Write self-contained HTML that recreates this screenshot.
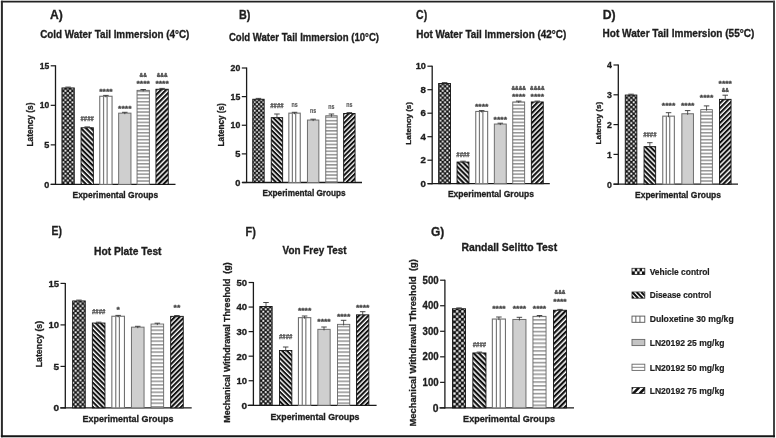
<!DOCTYPE html>
<html><head><meta charset="utf-8"><title>Figure</title>
<style>
html,body{margin:0;padding:0;background:#fff;}
body{width:776px;height:438px;overflow:hidden;}
svg{display:block;filter:blur(0.35px);}
</style></head>
<body>
<svg width="776" height="438" viewBox="0 0 776 438" font-family='"Liberation Sans", Arial, sans-serif'>
<defs>
<pattern id="chk" width="4.600" height="4.600" patternUnits="userSpaceOnUse"><rect width="4.600" height="4.600" fill="#141414"/><rect x="2.495" y="0.196" width="1.909" height="1.909" fill="#f6f6f6"/><rect x="0.196" y="2.495" width="1.909" height="1.909" fill="#f6f6f6"/></pattern>
<pattern id="dback" width="3.600" height="3.600" patternUnits="userSpaceOnUse" patternTransform="rotate(45)"><rect width="3.600" height="3.600" fill="#fff"/><rect width="3.600" height="2.160" fill="#111"/></pattern>
<pattern id="dfwd" width="3.600" height="3.600" patternUnits="userSpaceOnUse" patternTransform="rotate(-45)"><rect width="3.600" height="3.600" fill="#fff"/><rect width="3.600" height="2.160" fill="#111"/></pattern>
<pattern id="hline" width="3.400" height="3.400" patternUnits="userSpaceOnUse"><rect width="3.400" height="3.400" fill="#fff"/><rect y="1.020" width="3.400" height="1.25" fill="#7c7c7c"/></pattern>
<pattern id="chkA" width="4.600" height="4.600" patternUnits="userSpaceOnUse"><rect width="4.600" height="4.600" fill="#141414"/><rect x="2.495" y="0.196" width="1.909" height="1.909" fill="#f6f6f6"/><rect x="0.196" y="2.495" width="1.909" height="1.909" fill="#f6f6f6"/></pattern>
<pattern id="dbackA" width="3.600" height="3.600" patternUnits="userSpaceOnUse" patternTransform="rotate(45)"><rect width="3.600" height="3.600" fill="#fff"/><rect width="3.600" height="2.160" fill="#111"/></pattern>
<pattern id="dfwdA" width="3.600" height="3.600" patternUnits="userSpaceOnUse" patternTransform="rotate(-45)"><rect width="3.600" height="3.600" fill="#fff"/><rect width="3.600" height="2.160" fill="#111"/></pattern>
<pattern id="hlineA" width="3.450" height="3.450" patternUnits="userSpaceOnUse"><rect width="3.450" height="3.450" fill="#fff"/><rect y="1.035" width="3.450" height="1.25" fill="#7c7c7c"/></pattern>
<pattern id="chkB" width="4.300" height="4.300" patternUnits="userSpaceOnUse"><rect width="4.300" height="4.300" fill="#141414"/><rect x="2.333" y="0.183" width="1.784" height="1.784" fill="#f6f6f6"/><rect x="0.183" y="2.333" width="1.784" height="1.784" fill="#f6f6f6"/></pattern>
<pattern id="dbackB" width="3.360" height="3.360" patternUnits="userSpaceOnUse" patternTransform="rotate(45)"><rect width="3.360" height="3.360" fill="#fff"/><rect width="3.360" height="2.016" fill="#111"/></pattern>
<pattern id="dfwdB" width="3.360" height="3.360" patternUnits="userSpaceOnUse" patternTransform="rotate(-45)"><rect width="3.360" height="3.360" fill="#fff"/><rect width="3.360" height="2.016" fill="#111"/></pattern>
<pattern id="hlineB" width="3.400" height="3.400" patternUnits="userSpaceOnUse"><rect width="3.400" height="3.400" fill="#fff"/><rect y="1.020" width="3.400" height="1.25" fill="#7c7c7c"/></pattern>
<pattern id="chkC" width="4.600" height="4.600" patternUnits="userSpaceOnUse"><rect width="4.600" height="4.600" fill="#141414"/><rect x="2.495" y="0.196" width="1.909" height="1.909" fill="#f6f6f6"/><rect x="0.196" y="2.495" width="1.909" height="1.909" fill="#f6f6f6"/></pattern>
<pattern id="dbackC" width="3.500" height="3.500" patternUnits="userSpaceOnUse" patternTransform="rotate(45)"><rect width="3.500" height="3.500" fill="#fff"/><rect width="3.500" height="2.100" fill="#111"/></pattern>
<pattern id="dfwdC" width="3.500" height="3.500" patternUnits="userSpaceOnUse" patternTransform="rotate(-45)"><rect width="3.500" height="3.500" fill="#fff"/><rect width="3.500" height="2.100" fill="#111"/></pattern>
<pattern id="hlineC" width="3.450" height="3.450" patternUnits="userSpaceOnUse"><rect width="3.450" height="3.450" fill="#fff"/><rect y="1.035" width="3.450" height="1.25" fill="#7c7c7c"/></pattern>
<pattern id="chkD" width="4.600" height="4.600" patternUnits="userSpaceOnUse"><rect width="4.600" height="4.600" fill="#141414"/><rect x="2.495" y="0.196" width="1.909" height="1.909" fill="#f6f6f6"/><rect x="0.196" y="2.495" width="1.909" height="1.909" fill="#f6f6f6"/></pattern>
<pattern id="dbackD" width="3.500" height="3.500" patternUnits="userSpaceOnUse" patternTransform="rotate(45)"><rect width="3.500" height="3.500" fill="#fff"/><rect width="3.500" height="2.100" fill="#111"/></pattern>
<pattern id="dfwdD" width="3.500" height="3.500" patternUnits="userSpaceOnUse" patternTransform="rotate(-45)"><rect width="3.500" height="3.500" fill="#fff"/><rect width="3.500" height="2.100" fill="#111"/></pattern>
<pattern id="hlineD" width="3.450" height="3.450" patternUnits="userSpaceOnUse"><rect width="3.450" height="3.450" fill="#fff"/><rect y="1.035" width="3.450" height="1.25" fill="#7c7c7c"/></pattern>
<pattern id="chkE" width="4.800" height="4.800" patternUnits="userSpaceOnUse"><rect width="4.800" height="4.800" fill="#141414"/><rect x="2.604" y="0.204" width="1.992" height="1.992" fill="#f6f6f6"/><rect x="0.204" y="2.604" width="1.992" height="1.992" fill="#f6f6f6"/></pattern>
<pattern id="dbackE" width="3.400" height="3.400" patternUnits="userSpaceOnUse" patternTransform="rotate(45)"><rect width="3.400" height="3.400" fill="#fff"/><rect width="3.400" height="2.040" fill="#111"/></pattern>
<pattern id="dfwdE" width="3.400" height="3.400" patternUnits="userSpaceOnUse" patternTransform="rotate(-45)"><rect width="3.400" height="3.400" fill="#fff"/><rect width="3.400" height="2.040" fill="#111"/></pattern>
<pattern id="hlineE" width="3.650" height="3.650" patternUnits="userSpaceOnUse"><rect width="3.650" height="3.650" fill="#fff"/><rect y="1.095" width="3.650" height="1.25" fill="#7c7c7c"/></pattern>
<pattern id="chkF" width="4.600" height="4.600" patternUnits="userSpaceOnUse"><rect width="4.600" height="4.600" fill="#141414"/><rect x="2.495" y="0.196" width="1.909" height="1.909" fill="#f6f6f6"/><rect x="0.196" y="2.495" width="1.909" height="1.909" fill="#f6f6f6"/></pattern>
<pattern id="dbackF" width="3.400" height="3.400" patternUnits="userSpaceOnUse" patternTransform="rotate(45)"><rect width="3.400" height="3.400" fill="#fff"/><rect width="3.400" height="2.040" fill="#111"/></pattern>
<pattern id="dfwdF" width="3.400" height="3.400" patternUnits="userSpaceOnUse" patternTransform="rotate(-45)"><rect width="3.400" height="3.400" fill="#fff"/><rect width="3.400" height="2.040" fill="#111"/></pattern>
<pattern id="hlineF" width="3.650" height="3.650" patternUnits="userSpaceOnUse"><rect width="3.650" height="3.650" fill="#fff"/><rect y="1.095" width="3.650" height="1.25" fill="#7c7c7c"/></pattern>
<pattern id="chkG" width="5.300" height="5.300" patternUnits="userSpaceOnUse"><rect width="5.300" height="5.300" fill="#141414"/><rect x="2.875" y="0.225" width="2.200" height="2.200" fill="#f6f6f6"/><rect x="0.225" y="2.875" width="2.200" height="2.200" fill="#f6f6f6"/></pattern>
<pattern id="dbackG" width="3.750" height="3.750" patternUnits="userSpaceOnUse" patternTransform="rotate(45)"><rect width="3.750" height="3.750" fill="#fff"/><rect width="3.750" height="2.250" fill="#111"/></pattern>
<pattern id="dfwdG" width="3.750" height="3.750" patternUnits="userSpaceOnUse" patternTransform="rotate(-45)"><rect width="3.750" height="3.750" fill="#fff"/><rect width="3.750" height="2.250" fill="#111"/></pattern>
<pattern id="hlineG" width="3.880" height="3.880" patternUnits="userSpaceOnUse"><rect width="3.880" height="3.880" fill="#fff"/><rect y="1.164" width="3.880" height="1.25" fill="#7c7c7c"/></pattern>
</defs>
<rect x="0" y="0" width="776" height="438" fill="#fff"/>
<line x1="0.9" y1="1.6" x2="775" y2="1.6" stroke="#222" stroke-width="1.9"/>
<line x1="1.9" y1="0.7" x2="1.9" y2="437.2" stroke="#2a2a2a" stroke-width="2.0"/>
<line x1="774.0" y1="0.7" x2="774.0" y2="437.2" stroke="#444" stroke-width="2.0"/>
<line x1="0.9" y1="436.2" x2="775" y2="436.2" stroke="#151515" stroke-width="1.9"/>
<line x1="55.50" y1="65.30" x2="55.50" y2="184.90" stroke="#1a1a1a" stroke-width="1.3"/>
<line x1="50.70" y1="184.40" x2="175.50" y2="184.40" stroke="#1a1a1a" stroke-width="1.3"/>
<line x1="50.70" y1="184.40" x2="55.50" y2="184.40" stroke="#1a1a1a" stroke-width="1.2"/>
<text x="49.20" y="187.50" font-size="8.6" text-anchor="end" font-weight="bold" fill="#1e1e1e" textLength="5.05" lengthAdjust="spacingAndGlyphs" stroke="#1e1e1e" stroke-width="0.32">0</text>
<line x1="50.70" y1="144.87" x2="55.50" y2="144.87" stroke="#1a1a1a" stroke-width="1.2"/>
<text x="49.20" y="147.96" font-size="8.6" text-anchor="end" font-weight="bold" fill="#1e1e1e" textLength="5.05" lengthAdjust="spacingAndGlyphs" stroke="#1e1e1e" stroke-width="0.32">5</text>
<line x1="50.70" y1="105.33" x2="55.50" y2="105.33" stroke="#1a1a1a" stroke-width="1.2"/>
<text x="49.20" y="108.43" font-size="8.6" text-anchor="end" font-weight="bold" fill="#1e1e1e" textLength="9.50" lengthAdjust="spacingAndGlyphs" stroke="#1e1e1e" stroke-width="0.32">10</text>
<line x1="50.70" y1="65.80" x2="55.50" y2="65.80" stroke="#1a1a1a" stroke-width="1.2"/>
<text x="49.20" y="68.89" font-size="8.6" text-anchor="end" font-weight="bold" fill="#1e1e1e" textLength="9.50" lengthAdjust="spacingAndGlyphs" stroke="#1e1e1e" stroke-width="0.32">15</text>
<rect x="61.95" y="87.95" width="12.30" height="96.45" fill="url(#chkA)" stroke="#111" stroke-width="0.9"/>
<line x1="68.10" y1="87.10" x2="68.10" y2="89.00" stroke="#333" stroke-width="0.8"/>
<line x1="65.35" y1="87.10" x2="70.85" y2="87.10" stroke="#333" stroke-width="0.9"/>
<rect x="81.05" y="127.75" width="12.30" height="56.65" fill="url(#dbackA)" stroke="#111" stroke-width="0.9"/>
<line x1="87.20" y1="126.90" x2="87.20" y2="128.80" stroke="#333" stroke-width="0.8"/>
<line x1="84.45" y1="126.90" x2="89.95" y2="126.90" stroke="#333" stroke-width="0.9"/>
<text x="87.20" y="121.00" font-size="6.8" text-anchor="middle" font-weight="bold" fill="#444" textLength="13.40" lengthAdjust="spacingAndGlyphs" font-family="Liberation Mono, monospace" stroke="#444" stroke-width="0.25">####</text>
<rect x="99.75" y="96.25" width="12.30" height="88.15" fill="#fff" stroke="#707070" stroke-width="1.1"/>
<line x1="103.56" y1="96.25" x2="103.56" y2="184.40" stroke="#7a7a7a" stroke-width="1.2"/>
<line x1="107.13" y1="96.25" x2="107.13" y2="184.40" stroke="#7a7a7a" stroke-width="1.2"/>
<line x1="105.90" y1="95.40" x2="105.90" y2="97.30" stroke="#333" stroke-width="0.8"/>
<line x1="103.15" y1="95.40" x2="108.65" y2="95.40" stroke="#333" stroke-width="0.9"/>
<text x="105.90" y="93.90" font-size="7.5" text-anchor="middle" font-weight="bold" fill="#444" textLength="13.40" lengthAdjust="spacingAndGlyphs" stroke="#444" stroke-width="0.32">****</text>
<rect x="118.65" y="113.15" width="12.30" height="71.25" fill="#cfcfcf" stroke="#6e6e6e" stroke-width="1.0"/>
<line x1="124.80" y1="112.30" x2="124.80" y2="114.20" stroke="#333" stroke-width="0.8"/>
<line x1="122.05" y1="112.30" x2="127.55" y2="112.30" stroke="#333" stroke-width="0.9"/>
<text x="124.80" y="110.50" font-size="7.5" text-anchor="middle" font-weight="bold" fill="#444" textLength="13.40" lengthAdjust="spacingAndGlyphs" stroke="#444" stroke-width="0.32">****</text>
<rect x="137.05" y="90.35" width="12.30" height="94.05" fill="url(#hlineA)" stroke="#666" stroke-width="0.9"/>
<line x1="143.20" y1="89.50" x2="143.20" y2="91.40" stroke="#333" stroke-width="0.8"/>
<line x1="140.45" y1="89.50" x2="145.95" y2="89.50" stroke="#333" stroke-width="0.9"/>
<text x="143.20" y="86.20" font-size="7.5" text-anchor="middle" font-weight="bold" fill="#444" textLength="13.40" lengthAdjust="spacingAndGlyphs" stroke="#444" stroke-width="0.32">****</text>
<text x="143.20" y="76.80" font-size="6.0" text-anchor="middle" font-weight="bold" fill="#444" textLength="7.20" lengthAdjust="spacingAndGlyphs" stroke="#444" stroke-width="0.32">&amp;&amp;</text>
<rect x="155.95" y="89.25" width="12.30" height="95.15" fill="url(#dfwdA)" stroke="#111" stroke-width="0.9"/>
<line x1="162.10" y1="88.40" x2="162.10" y2="90.30" stroke="#333" stroke-width="0.8"/>
<line x1="159.35" y1="88.40" x2="164.85" y2="88.40" stroke="#333" stroke-width="0.9"/>
<text x="162.10" y="86.20" font-size="7.5" text-anchor="middle" font-weight="bold" fill="#444" textLength="13.40" lengthAdjust="spacingAndGlyphs" stroke="#444" stroke-width="0.32">****</text>
<text x="162.10" y="76.80" font-size="6.0" text-anchor="middle" font-weight="bold" fill="#444" textLength="10.80" lengthAdjust="spacingAndGlyphs" stroke="#444" stroke-width="0.32">&amp;&amp;&amp;</text>
<text x="115.35" y="198.20" font-size="9.2" text-anchor="middle" font-weight="bold" fill="#1e1e1e" textLength="85.70" lengthAdjust="spacingAndGlyphs" stroke="#1e1e1e" stroke-width="0.32">Experimental Groups</text>
<text x="40.20" y="37.50" font-size="10.9" text-anchor="start" font-weight="bold" fill="#1e1e1e" textLength="149.20" lengthAdjust="spacingAndGlyphs" stroke="#1e1e1e" stroke-width="0.32">Cold Water Tail Immersion (4°C)</text>
<text x="50.00" y="19.40" font-size="12.9" text-anchor="start" font-weight="bold" fill="#1e1e1e" textLength="12.80" lengthAdjust="spacingAndGlyphs" stroke="#1e1e1e" stroke-width="0.32">A)</text>
<text transform="translate(32.70,124.50) rotate(-90)" x="0" y="0" font-size="9.0" text-anchor="middle" font-weight="bold" fill="#1e1e1e" stroke="#1e1e1e" stroke-width="0.3" textLength="44.00" lengthAdjust="spacingAndGlyphs">Latency (s)</text>
<line x1="246.60" y1="67.50" x2="246.60" y2="183.00" stroke="#1a1a1a" stroke-width="1.3"/>
<line x1="242.20" y1="182.50" x2="362.00" y2="182.50" stroke="#1a1a1a" stroke-width="1.3"/>
<line x1="241.80" y1="182.50" x2="246.60" y2="182.50" stroke="#1a1a1a" stroke-width="1.2"/>
<text x="240.30" y="185.63" font-size="8.7" text-anchor="end" font-weight="bold" fill="#1e1e1e" textLength="5.15" lengthAdjust="spacingAndGlyphs" stroke="#1e1e1e" stroke-width="0.32">0</text>
<line x1="241.80" y1="153.88" x2="246.60" y2="153.88" stroke="#1a1a1a" stroke-width="1.2"/>
<text x="240.30" y="157.01" font-size="8.7" text-anchor="end" font-weight="bold" fill="#1e1e1e" textLength="5.15" lengthAdjust="spacingAndGlyphs" stroke="#1e1e1e" stroke-width="0.32">5</text>
<line x1="241.80" y1="125.25" x2="246.60" y2="125.25" stroke="#1a1a1a" stroke-width="1.2"/>
<text x="240.30" y="128.38" font-size="8.7" text-anchor="end" font-weight="bold" fill="#1e1e1e" textLength="9.70" lengthAdjust="spacingAndGlyphs" stroke="#1e1e1e" stroke-width="0.32">10</text>
<line x1="241.80" y1="96.62" x2="246.60" y2="96.62" stroke="#1a1a1a" stroke-width="1.2"/>
<text x="240.30" y="99.76" font-size="8.7" text-anchor="end" font-weight="bold" fill="#1e1e1e" textLength="9.70" lengthAdjust="spacingAndGlyphs" stroke="#1e1e1e" stroke-width="0.32">15</text>
<line x1="241.80" y1="68.00" x2="246.60" y2="68.00" stroke="#1a1a1a" stroke-width="1.2"/>
<text x="240.30" y="71.13" font-size="8.7" text-anchor="end" font-weight="bold" fill="#1e1e1e" textLength="9.70" lengthAdjust="spacingAndGlyphs" stroke="#1e1e1e" stroke-width="0.32">20</text>
<rect x="252.75" y="99.25" width="11.40" height="83.25" fill="url(#chkB)" stroke="#111" stroke-width="0.9"/>
<line x1="258.45" y1="98.40" x2="258.45" y2="100.30" stroke="#333" stroke-width="0.8"/>
<line x1="255.70" y1="98.40" x2="261.20" y2="98.40" stroke="#333" stroke-width="0.9"/>
<rect x="271.25" y="117.65" width="11.40" height="64.85" fill="url(#dbackB)" stroke="#111" stroke-width="0.9"/>
<line x1="276.95" y1="114.00" x2="276.95" y2="118.70" stroke="#333" stroke-width="0.8"/>
<line x1="274.20" y1="114.00" x2="279.70" y2="114.00" stroke="#333" stroke-width="0.9"/>
<text x="276.95" y="107.60" font-size="6.8" text-anchor="middle" font-weight="bold" fill="#444" textLength="13.40" lengthAdjust="spacingAndGlyphs" font-family="Liberation Mono, monospace" stroke="#444" stroke-width="0.25">####</text>
<rect x="288.85" y="113.15" width="11.40" height="69.35" fill="#fff" stroke="#707070" stroke-width="1.1"/>
<line x1="292.38" y1="113.15" x2="292.38" y2="182.50" stroke="#7a7a7a" stroke-width="1.2"/>
<line x1="295.69" y1="113.15" x2="295.69" y2="182.50" stroke="#7a7a7a" stroke-width="1.2"/>
<line x1="294.55" y1="112.30" x2="294.55" y2="114.20" stroke="#333" stroke-width="0.8"/>
<line x1="291.80" y1="112.30" x2="297.30" y2="112.30" stroke="#333" stroke-width="0.9"/>
<text x="294.55" y="106.60" font-size="6.6" text-anchor="middle" font-weight="bold" fill="#555" textLength="6.20" lengthAdjust="spacingAndGlyphs" stroke="#555" stroke-width="0.12">ns</text>
<rect x="307.45" y="120.05" width="11.40" height="62.45" fill="#cfcfcf" stroke="#6e6e6e" stroke-width="1.0"/>
<line x1="313.15" y1="119.20" x2="313.15" y2="121.10" stroke="#333" stroke-width="0.8"/>
<line x1="310.40" y1="119.20" x2="315.90" y2="119.20" stroke="#333" stroke-width="0.9"/>
<text x="313.15" y="112.60" font-size="6.6" text-anchor="middle" font-weight="bold" fill="#555" textLength="6.20" lengthAdjust="spacingAndGlyphs" stroke="#555" stroke-width="0.12">ns</text>
<rect x="325.75" y="115.75" width="11.40" height="66.75" fill="url(#hlineB)" stroke="#666" stroke-width="0.9"/>
<line x1="331.45" y1="114.00" x2="331.45" y2="116.80" stroke="#333" stroke-width="0.8"/>
<line x1="328.70" y1="114.00" x2="334.20" y2="114.00" stroke="#333" stroke-width="0.9"/>
<text x="331.45" y="109.30" font-size="6.6" text-anchor="middle" font-weight="bold" fill="#555" textLength="6.20" lengthAdjust="spacingAndGlyphs" stroke="#555" stroke-width="0.12">ns</text>
<rect x="343.65" y="113.45" width="11.40" height="69.05" fill="url(#dfwdB)" stroke="#111" stroke-width="0.9"/>
<line x1="349.35" y1="112.60" x2="349.35" y2="114.50" stroke="#333" stroke-width="0.8"/>
<line x1="346.60" y1="112.60" x2="352.10" y2="112.60" stroke="#333" stroke-width="0.9"/>
<text x="349.35" y="106.80" font-size="6.6" text-anchor="middle" font-weight="bold" fill="#555" textLength="6.20" lengthAdjust="spacingAndGlyphs" stroke="#555" stroke-width="0.12">ns</text>
<text x="304.10" y="196.00" font-size="9.2" text-anchor="middle" font-weight="bold" fill="#1e1e1e" textLength="83.20" lengthAdjust="spacingAndGlyphs" stroke="#1e1e1e" stroke-width="0.32">Experimental Groups</text>
<text x="228.90" y="40.50" font-size="10.9" text-anchor="start" font-weight="bold" fill="#1e1e1e" textLength="150.10" lengthAdjust="spacingAndGlyphs" stroke="#1e1e1e" stroke-width="0.32">Cold Water Tail Immersion (10°C)</text>
<text x="238.90" y="19.40" font-size="12.9" text-anchor="start" font-weight="bold" fill="#1e1e1e" textLength="11.40" lengthAdjust="spacingAndGlyphs" stroke="#1e1e1e" stroke-width="0.32">B)</text>
<text transform="translate(224.00,124.80) rotate(-90)" x="0" y="0" font-size="8.5" text-anchor="middle" font-weight="bold" fill="#1e1e1e" stroke="#1e1e1e" stroke-width="0.3" textLength="43.20" lengthAdjust="spacingAndGlyphs">Latency (s)</text>
<line x1="432.20" y1="65.70" x2="432.20" y2="184.20" stroke="#1a1a1a" stroke-width="1.3"/>
<line x1="427.70" y1="183.70" x2="549.80" y2="183.70" stroke="#1a1a1a" stroke-width="1.3"/>
<line x1="427.40" y1="183.70" x2="432.20" y2="183.70" stroke="#1a1a1a" stroke-width="1.2"/>
<text x="425.90" y="186.94" font-size="9.0" text-anchor="end" font-weight="bold" fill="#1e1e1e" textLength="5.40" lengthAdjust="spacingAndGlyphs" stroke="#1e1e1e" stroke-width="0.32">0</text>
<line x1="427.40" y1="160.20" x2="432.20" y2="160.20" stroke="#1a1a1a" stroke-width="1.2"/>
<text x="425.90" y="163.44" font-size="9.0" text-anchor="end" font-weight="bold" fill="#1e1e1e" textLength="5.40" lengthAdjust="spacingAndGlyphs" stroke="#1e1e1e" stroke-width="0.32">2</text>
<line x1="427.40" y1="136.70" x2="432.20" y2="136.70" stroke="#1a1a1a" stroke-width="1.2"/>
<text x="425.90" y="139.94" font-size="9.0" text-anchor="end" font-weight="bold" fill="#1e1e1e" textLength="5.40" lengthAdjust="spacingAndGlyphs" stroke="#1e1e1e" stroke-width="0.32">4</text>
<line x1="427.40" y1="113.20" x2="432.20" y2="113.20" stroke="#1a1a1a" stroke-width="1.2"/>
<text x="425.90" y="116.44" font-size="9.0" text-anchor="end" font-weight="bold" fill="#1e1e1e" textLength="5.40" lengthAdjust="spacingAndGlyphs" stroke="#1e1e1e" stroke-width="0.32">6</text>
<line x1="427.40" y1="89.70" x2="432.20" y2="89.70" stroke="#1a1a1a" stroke-width="1.2"/>
<text x="425.90" y="92.94" font-size="9.0" text-anchor="end" font-weight="bold" fill="#1e1e1e" textLength="5.40" lengthAdjust="spacingAndGlyphs" stroke="#1e1e1e" stroke-width="0.32">8</text>
<line x1="427.40" y1="66.20" x2="432.20" y2="66.20" stroke="#1a1a1a" stroke-width="1.2"/>
<text x="425.90" y="69.44" font-size="9.0" text-anchor="end" font-weight="bold" fill="#1e1e1e" textLength="10.20" lengthAdjust="spacingAndGlyphs" stroke="#1e1e1e" stroke-width="0.32">10</text>
<rect x="438.65" y="83.45" width="11.90" height="100.25" fill="url(#chkC)" stroke="#111" stroke-width="0.9"/>
<line x1="444.60" y1="82.60" x2="444.60" y2="84.50" stroke="#333" stroke-width="0.8"/>
<line x1="441.85" y1="82.60" x2="447.35" y2="82.60" stroke="#333" stroke-width="0.9"/>
<rect x="457.05" y="162.05" width="11.90" height="21.65" fill="url(#dbackC)" stroke="#111" stroke-width="0.9"/>
<line x1="463.00" y1="161.20" x2="463.00" y2="163.10" stroke="#333" stroke-width="0.8"/>
<line x1="460.25" y1="161.20" x2="465.75" y2="161.20" stroke="#333" stroke-width="0.9"/>
<text x="463.00" y="157.30" font-size="6.8" text-anchor="middle" font-weight="bold" fill="#444" textLength="13.40" lengthAdjust="spacingAndGlyphs" font-family="Liberation Mono, monospace" stroke="#444" stroke-width="0.25">####</text>
<rect x="475.75" y="111.45" width="11.90" height="72.25" fill="#fff" stroke="#707070" stroke-width="1.1"/>
<line x1="479.44" y1="111.45" x2="479.44" y2="183.70" stroke="#7a7a7a" stroke-width="1.2"/>
<line x1="482.89" y1="111.45" x2="482.89" y2="183.70" stroke="#7a7a7a" stroke-width="1.2"/>
<line x1="481.70" y1="110.60" x2="481.70" y2="112.50" stroke="#333" stroke-width="0.8"/>
<line x1="478.95" y1="110.60" x2="484.45" y2="110.60" stroke="#333" stroke-width="0.9"/>
<text x="481.70" y="109.10" font-size="7.5" text-anchor="middle" font-weight="bold" fill="#444" textLength="13.40" lengthAdjust="spacingAndGlyphs" stroke="#444" stroke-width="0.32">****</text>
<rect x="494.35" y="124.05" width="11.90" height="59.65" fill="#cfcfcf" stroke="#6e6e6e" stroke-width="1.0"/>
<line x1="500.30" y1="123.20" x2="500.30" y2="125.10" stroke="#333" stroke-width="0.8"/>
<line x1="497.55" y1="123.20" x2="503.05" y2="123.20" stroke="#333" stroke-width="0.9"/>
<text x="500.30" y="122.40" font-size="7.5" text-anchor="middle" font-weight="bold" fill="#444" textLength="13.40" lengthAdjust="spacingAndGlyphs" stroke="#444" stroke-width="0.32">****</text>
<rect x="512.75" y="101.95" width="11.90" height="81.75" fill="url(#hlineC)" stroke="#666" stroke-width="0.9"/>
<line x1="518.70" y1="101.10" x2="518.70" y2="103.00" stroke="#333" stroke-width="0.8"/>
<line x1="515.95" y1="101.10" x2="521.45" y2="101.10" stroke="#333" stroke-width="0.9"/>
<text x="518.70" y="99.30" font-size="7.5" text-anchor="middle" font-weight="bold" fill="#444" textLength="13.40" lengthAdjust="spacingAndGlyphs" stroke="#444" stroke-width="0.32">****</text>
<text x="518.70" y="90.30" font-size="6.0" text-anchor="middle" font-weight="bold" fill="#444" textLength="14.40" lengthAdjust="spacingAndGlyphs" stroke="#444" stroke-width="0.32">&amp;&amp;&amp;&amp;</text>
<rect x="531.35" y="101.95" width="11.90" height="81.75" fill="url(#dfwdC)" stroke="#111" stroke-width="0.9"/>
<line x1="537.30" y1="101.10" x2="537.30" y2="103.00" stroke="#333" stroke-width="0.8"/>
<line x1="534.55" y1="101.10" x2="540.05" y2="101.10" stroke="#333" stroke-width="0.9"/>
<text x="537.30" y="99.30" font-size="7.5" text-anchor="middle" font-weight="bold" fill="#444" textLength="13.40" lengthAdjust="spacingAndGlyphs" stroke="#444" stroke-width="0.32">****</text>
<text x="537.30" y="90.30" font-size="6.0" text-anchor="middle" font-weight="bold" fill="#444" textLength="14.40" lengthAdjust="spacingAndGlyphs" stroke="#444" stroke-width="0.32">&amp;&amp;&amp;&amp;</text>
<text x="490.95" y="196.80" font-size="9.2" text-anchor="middle" font-weight="bold" fill="#1e1e1e" textLength="86.10" lengthAdjust="spacingAndGlyphs" stroke="#1e1e1e" stroke-width="0.32">Experimental Groups</text>
<text x="416.30" y="37.90" font-size="10.9" text-anchor="start" font-weight="bold" fill="#1e1e1e" textLength="149.90" lengthAdjust="spacingAndGlyphs" stroke="#1e1e1e" stroke-width="0.32">Hot Water Tail Immersion (42°C)</text>
<text x="416.10" y="19.40" font-size="12.9" text-anchor="start" font-weight="bold" fill="#1e1e1e" textLength="11.10" lengthAdjust="spacingAndGlyphs" stroke="#1e1e1e" stroke-width="0.32">C)</text>
<text transform="translate(410.80,123.30) rotate(-90)" x="0" y="0" font-size="7.8" text-anchor="middle" font-weight="bold" fill="#1e1e1e" stroke="#1e1e1e" stroke-width="0.3" textLength="42.70" lengthAdjust="spacingAndGlyphs">Latency (s)</text>
<line x1="618.30" y1="64.50" x2="618.30" y2="184.70" stroke="#1a1a1a" stroke-width="1.3"/>
<line x1="613.50" y1="184.20" x2="738.00" y2="184.20" stroke="#1a1a1a" stroke-width="1.3"/>
<line x1="613.50" y1="184.20" x2="618.30" y2="184.20" stroke="#1a1a1a" stroke-width="1.2"/>
<text x="612.00" y="187.66" font-size="9.6" text-anchor="end" font-weight="bold" fill="#1e1e1e" textLength="4.90" lengthAdjust="spacingAndGlyphs" stroke="#1e1e1e" stroke-width="0.32">0</text>
<line x1="613.50" y1="154.40" x2="618.30" y2="154.40" stroke="#1a1a1a" stroke-width="1.2"/>
<text x="612.00" y="157.86" font-size="9.6" text-anchor="end" font-weight="bold" fill="#1e1e1e" textLength="4.90" lengthAdjust="spacingAndGlyphs" stroke="#1e1e1e" stroke-width="0.32">1</text>
<line x1="613.50" y1="124.60" x2="618.30" y2="124.60" stroke="#1a1a1a" stroke-width="1.2"/>
<text x="612.00" y="128.06" font-size="9.6" text-anchor="end" font-weight="bold" fill="#1e1e1e" textLength="4.90" lengthAdjust="spacingAndGlyphs" stroke="#1e1e1e" stroke-width="0.32">2</text>
<line x1="613.50" y1="94.80" x2="618.30" y2="94.80" stroke="#1a1a1a" stroke-width="1.2"/>
<text x="612.00" y="98.26" font-size="9.6" text-anchor="end" font-weight="bold" fill="#1e1e1e" textLength="4.90" lengthAdjust="spacingAndGlyphs" stroke="#1e1e1e" stroke-width="0.32">3</text>
<line x1="613.50" y1="65.00" x2="618.30" y2="65.00" stroke="#1a1a1a" stroke-width="1.2"/>
<text x="612.00" y="68.46" font-size="9.6" text-anchor="end" font-weight="bold" fill="#1e1e1e" textLength="4.90" lengthAdjust="spacingAndGlyphs" stroke="#1e1e1e" stroke-width="0.32">4</text>
<rect x="625.25" y="95.05" width="11.60" height="89.15" fill="url(#chkD)" stroke="#111" stroke-width="0.9"/>
<line x1="631.05" y1="94.20" x2="631.05" y2="96.10" stroke="#333" stroke-width="0.8"/>
<line x1="628.30" y1="94.20" x2="633.80" y2="94.20" stroke="#333" stroke-width="0.9"/>
<rect x="644.05" y="146.65" width="11.60" height="37.55" fill="url(#dbackD)" stroke="#111" stroke-width="0.9"/>
<line x1="649.85" y1="142.70" x2="649.85" y2="147.70" stroke="#333" stroke-width="0.8"/>
<line x1="647.10" y1="142.70" x2="652.60" y2="142.70" stroke="#333" stroke-width="0.9"/>
<text x="649.85" y="136.80" font-size="6.8" text-anchor="middle" font-weight="bold" fill="#444" textLength="13.40" lengthAdjust="spacingAndGlyphs" font-family="Liberation Mono, monospace" stroke="#444" stroke-width="0.25">####</text>
<rect x="662.75" y="116.15" width="11.60" height="68.05" fill="#fff" stroke="#707070" stroke-width="1.1"/>
<line x1="666.35" y1="116.15" x2="666.35" y2="184.20" stroke="#7a7a7a" stroke-width="1.2"/>
<line x1="669.71" y1="116.15" x2="669.71" y2="184.20" stroke="#7a7a7a" stroke-width="1.2"/>
<line x1="668.55" y1="112.70" x2="668.55" y2="117.20" stroke="#333" stroke-width="0.8"/>
<line x1="665.80" y1="112.70" x2="671.30" y2="112.70" stroke="#333" stroke-width="0.9"/>
<text x="668.55" y="108.30" font-size="7.5" text-anchor="middle" font-weight="bold" fill="#444" textLength="13.40" lengthAdjust="spacingAndGlyphs" stroke="#444" stroke-width="0.32">****</text>
<rect x="681.85" y="113.75" width="11.60" height="70.45" fill="#cfcfcf" stroke="#6e6e6e" stroke-width="1.0"/>
<line x1="687.65" y1="110.60" x2="687.65" y2="114.80" stroke="#333" stroke-width="0.8"/>
<line x1="684.90" y1="110.60" x2="690.40" y2="110.60" stroke="#333" stroke-width="0.9"/>
<text x="687.65" y="108.30" font-size="7.5" text-anchor="middle" font-weight="bold" fill="#444" textLength="13.40" lengthAdjust="spacingAndGlyphs" stroke="#444" stroke-width="0.32">****</text>
<rect x="700.75" y="109.65" width="11.60" height="74.55" fill="url(#hlineD)" stroke="#666" stroke-width="0.9"/>
<line x1="706.55" y1="105.90" x2="706.55" y2="110.70" stroke="#333" stroke-width="0.8"/>
<line x1="703.80" y1="105.90" x2="709.30" y2="105.90" stroke="#333" stroke-width="0.9"/>
<text x="706.55" y="100.10" font-size="7.5" text-anchor="middle" font-weight="bold" fill="#444" textLength="13.40" lengthAdjust="spacingAndGlyphs" stroke="#444" stroke-width="0.32">****</text>
<rect x="719.45" y="99.35" width="11.60" height="84.85" fill="url(#dfwdD)" stroke="#111" stroke-width="0.9"/>
<line x1="725.25" y1="95.20" x2="725.25" y2="100.40" stroke="#333" stroke-width="0.8"/>
<line x1="722.50" y1="95.20" x2="728.00" y2="95.20" stroke="#333" stroke-width="0.9"/>
<text x="725.25" y="91.60" font-size="6.0" text-anchor="middle" font-weight="bold" fill="#444" textLength="7.20" lengthAdjust="spacingAndGlyphs" stroke="#444" stroke-width="0.32">&amp;&amp;</text>
<text x="725.25" y="86.20" font-size="7.5" text-anchor="middle" font-weight="bold" fill="#444" textLength="13.40" lengthAdjust="spacingAndGlyphs" stroke="#444" stroke-width="0.32">****</text>
<text x="678.00" y="197.50" font-size="9.2" text-anchor="middle" font-weight="bold" fill="#1e1e1e" textLength="86.00" lengthAdjust="spacingAndGlyphs" stroke="#1e1e1e" stroke-width="0.32">Experimental Groups</text>
<text x="602.50" y="36.60" font-size="10.9" text-anchor="start" font-weight="bold" fill="#1e1e1e" textLength="151.90" lengthAdjust="spacingAndGlyphs" stroke="#1e1e1e" stroke-width="0.32">Hot Water Tail Immersion (55°C)</text>
<text x="602.70" y="19.40" font-size="12.9" text-anchor="start" font-weight="bold" fill="#1e1e1e" textLength="12.90" lengthAdjust="spacingAndGlyphs" stroke="#1e1e1e" stroke-width="0.32">D)</text>
<text transform="translate(600.80,123.20) rotate(-90)" x="0" y="0" font-size="7.8" text-anchor="middle" font-weight="bold" fill="#1e1e1e" stroke="#1e1e1e" stroke-width="0.3" textLength="42.60" lengthAdjust="spacingAndGlyphs">Latency (s)</text>
<line x1="65.30" y1="282.90" x2="65.30" y2="408.40" stroke="#1a1a1a" stroke-width="1.3"/>
<line x1="60.20" y1="407.90" x2="191.70" y2="407.90" stroke="#1a1a1a" stroke-width="1.3"/>
<line x1="60.50" y1="407.90" x2="65.30" y2="407.90" stroke="#1a1a1a" stroke-width="1.2"/>
<text x="59.00" y="411.07" font-size="8.8" text-anchor="end" font-weight="bold" fill="#1e1e1e" textLength="5.60" lengthAdjust="spacingAndGlyphs" stroke="#1e1e1e" stroke-width="0.32">0</text>
<line x1="60.50" y1="366.40" x2="65.30" y2="366.40" stroke="#1a1a1a" stroke-width="1.2"/>
<text x="59.00" y="369.57" font-size="8.8" text-anchor="end" font-weight="bold" fill="#1e1e1e" textLength="5.60" lengthAdjust="spacingAndGlyphs" stroke="#1e1e1e" stroke-width="0.32">5</text>
<line x1="60.50" y1="324.90" x2="65.30" y2="324.90" stroke="#1a1a1a" stroke-width="1.2"/>
<text x="59.00" y="328.07" font-size="8.8" text-anchor="end" font-weight="bold" fill="#1e1e1e" textLength="10.60" lengthAdjust="spacingAndGlyphs" stroke="#1e1e1e" stroke-width="0.32">10</text>
<line x1="60.50" y1="283.40" x2="65.30" y2="283.40" stroke="#1a1a1a" stroke-width="1.2"/>
<text x="59.00" y="286.57" font-size="8.8" text-anchor="end" font-weight="bold" fill="#1e1e1e" textLength="10.60" lengthAdjust="spacingAndGlyphs" stroke="#1e1e1e" stroke-width="0.32">15</text>
<rect x="72.65" y="300.95" width="12.60" height="106.95" fill="url(#chkE)" stroke="#111" stroke-width="0.9"/>
<line x1="78.95" y1="300.10" x2="78.95" y2="302.00" stroke="#333" stroke-width="0.8"/>
<line x1="76.20" y1="300.10" x2="81.70" y2="300.10" stroke="#333" stroke-width="0.9"/>
<rect x="92.35" y="323.05" width="12.60" height="84.85" fill="url(#dbackE)" stroke="#111" stroke-width="0.9"/>
<line x1="98.65" y1="322.20" x2="98.65" y2="324.10" stroke="#333" stroke-width="0.8"/>
<line x1="95.90" y1="322.20" x2="101.40" y2="322.20" stroke="#333" stroke-width="0.9"/>
<text x="98.65" y="313.50" font-size="6.8" text-anchor="middle" font-weight="bold" fill="#444" textLength="13.40" lengthAdjust="spacingAndGlyphs" font-family="Liberation Mono, monospace" stroke="#444" stroke-width="0.25">####</text>
<rect x="111.85" y="316.25" width="12.60" height="91.65" fill="#fff" stroke="#707070" stroke-width="1.1"/>
<line x1="115.76" y1="316.25" x2="115.76" y2="407.90" stroke="#7a7a7a" stroke-width="1.2"/>
<line x1="119.41" y1="316.25" x2="119.41" y2="407.90" stroke="#7a7a7a" stroke-width="1.2"/>
<line x1="118.15" y1="315.40" x2="118.15" y2="317.30" stroke="#333" stroke-width="0.8"/>
<line x1="115.40" y1="315.40" x2="120.90" y2="315.40" stroke="#333" stroke-width="0.9"/>
<text x="118.15" y="312.00" font-size="7.5" text-anchor="middle" font-weight="bold" fill="#444" textLength="3.35" lengthAdjust="spacingAndGlyphs" stroke="#444" stroke-width="0.32">*</text>
<rect x="131.45" y="327.15" width="12.60" height="80.75" fill="#cfcfcf" stroke="#6e6e6e" stroke-width="1.0"/>
<line x1="137.75" y1="326.30" x2="137.75" y2="328.20" stroke="#333" stroke-width="0.8"/>
<line x1="135.00" y1="326.30" x2="140.50" y2="326.30" stroke="#333" stroke-width="0.9"/>
<rect x="151.05" y="324.05" width="12.60" height="83.85" fill="url(#hlineE)" stroke="#666" stroke-width="0.9"/>
<line x1="157.35" y1="323.20" x2="157.35" y2="325.10" stroke="#333" stroke-width="0.8"/>
<line x1="154.60" y1="323.20" x2="160.10" y2="323.20" stroke="#333" stroke-width="0.9"/>
<rect x="170.65" y="316.35" width="12.60" height="91.55" fill="url(#dfwdE)" stroke="#111" stroke-width="0.9"/>
<line x1="176.95" y1="315.50" x2="176.95" y2="317.40" stroke="#333" stroke-width="0.8"/>
<line x1="174.20" y1="315.50" x2="179.70" y2="315.50" stroke="#333" stroke-width="0.9"/>
<text x="176.95" y="309.80" font-size="7.5" text-anchor="middle" font-weight="bold" fill="#444" textLength="6.70" lengthAdjust="spacingAndGlyphs" stroke="#444" stroke-width="0.32">**</text>
<text x="128.05" y="421.90" font-size="9.8" text-anchor="middle" font-weight="bold" fill="#1e1e1e" textLength="90.90" lengthAdjust="spacingAndGlyphs" stroke="#1e1e1e" stroke-width="0.32">Experimental Groups</text>
<text x="94.00" y="254.70" font-size="10.2" text-anchor="start" font-weight="bold" fill="#1e1e1e" textLength="67.50" lengthAdjust="spacingAndGlyphs" stroke="#1e1e1e" stroke-width="0.32">Hot Plate Test</text>
<text x="51.60" y="235.30" font-size="12.9" text-anchor="start" font-weight="bold" fill="#1e1e1e" textLength="10.40" lengthAdjust="spacingAndGlyphs" stroke="#1e1e1e" stroke-width="0.32">E)</text>
<text transform="translate(41.80,344.10) rotate(-90)" x="0" y="0" font-size="9.2" text-anchor="middle" font-weight="bold" fill="#1e1e1e" stroke="#1e1e1e" stroke-width="0.3" textLength="46.50" lengthAdjust="spacingAndGlyphs">Latency (s)</text>
<line x1="253.40" y1="282.00" x2="253.40" y2="405.80" stroke="#1a1a1a" stroke-width="1.3"/>
<line x1="247.70" y1="405.30" x2="376.60" y2="405.30" stroke="#1a1a1a" stroke-width="1.3"/>
<line x1="248.60" y1="405.30" x2="253.40" y2="405.30" stroke="#1a1a1a" stroke-width="1.2"/>
<text x="247.10" y="408.72" font-size="9.5" text-anchor="end" font-weight="bold" fill="#1e1e1e" textLength="5.60" lengthAdjust="spacingAndGlyphs" stroke="#1e1e1e" stroke-width="0.32">0</text>
<line x1="248.60" y1="380.74" x2="253.40" y2="380.74" stroke="#1a1a1a" stroke-width="1.2"/>
<text x="247.10" y="384.16" font-size="9.5" text-anchor="end" font-weight="bold" fill="#1e1e1e" textLength="10.60" lengthAdjust="spacingAndGlyphs" stroke="#1e1e1e" stroke-width="0.32">10</text>
<line x1="248.60" y1="356.18" x2="253.40" y2="356.18" stroke="#1a1a1a" stroke-width="1.2"/>
<text x="247.10" y="359.60" font-size="9.5" text-anchor="end" font-weight="bold" fill="#1e1e1e" textLength="10.60" lengthAdjust="spacingAndGlyphs" stroke="#1e1e1e" stroke-width="0.32">20</text>
<line x1="248.60" y1="331.62" x2="253.40" y2="331.62" stroke="#1a1a1a" stroke-width="1.2"/>
<text x="247.10" y="335.04" font-size="9.5" text-anchor="end" font-weight="bold" fill="#1e1e1e" textLength="10.60" lengthAdjust="spacingAndGlyphs" stroke="#1e1e1e" stroke-width="0.32">30</text>
<line x1="248.60" y1="307.06" x2="253.40" y2="307.06" stroke="#1a1a1a" stroke-width="1.2"/>
<text x="247.10" y="310.48" font-size="9.5" text-anchor="end" font-weight="bold" fill="#1e1e1e" textLength="10.60" lengthAdjust="spacingAndGlyphs" stroke="#1e1e1e" stroke-width="0.32">40</text>
<line x1="248.60" y1="282.50" x2="253.40" y2="282.50" stroke="#1a1a1a" stroke-width="1.2"/>
<text x="247.10" y="285.92" font-size="9.5" text-anchor="end" font-weight="bold" fill="#1e1e1e" textLength="10.60" lengthAdjust="spacingAndGlyphs" stroke="#1e1e1e" stroke-width="0.32">50</text>
<rect x="259.85" y="306.45" width="12.30" height="98.85" fill="url(#chkF)" stroke="#111" stroke-width="0.9"/>
<line x1="266.00" y1="302.50" x2="266.00" y2="307.50" stroke="#333" stroke-width="0.8"/>
<line x1="263.25" y1="302.50" x2="268.75" y2="302.50" stroke="#333" stroke-width="0.9"/>
<rect x="279.55" y="350.55" width="12.30" height="54.75" fill="url(#dbackF)" stroke="#111" stroke-width="0.9"/>
<line x1="285.70" y1="347.00" x2="285.70" y2="351.60" stroke="#333" stroke-width="0.8"/>
<line x1="282.95" y1="347.00" x2="288.45" y2="347.00" stroke="#333" stroke-width="0.9"/>
<text x="285.70" y="339.00" font-size="6.8" text-anchor="middle" font-weight="bold" fill="#444" textLength="13.40" lengthAdjust="spacingAndGlyphs" font-family="Liberation Mono, monospace" stroke="#444" stroke-width="0.25">####</text>
<rect x="298.45" y="317.65" width="12.30" height="87.65" fill="#fff" stroke="#707070" stroke-width="1.1"/>
<line x1="302.26" y1="317.65" x2="302.26" y2="405.30" stroke="#7a7a7a" stroke-width="1.2"/>
<line x1="305.83" y1="317.65" x2="305.83" y2="405.30" stroke="#7a7a7a" stroke-width="1.2"/>
<line x1="304.60" y1="316.00" x2="304.60" y2="318.70" stroke="#333" stroke-width="0.8"/>
<line x1="301.85" y1="316.00" x2="307.35" y2="316.00" stroke="#333" stroke-width="0.9"/>
<text x="304.60" y="312.70" font-size="7.5" text-anchor="middle" font-weight="bold" fill="#444" textLength="13.40" lengthAdjust="spacingAndGlyphs" stroke="#444" stroke-width="0.32">****</text>
<rect x="317.85" y="329.35" width="12.30" height="75.95" fill="#cfcfcf" stroke="#6e6e6e" stroke-width="1.0"/>
<line x1="324.00" y1="327.00" x2="324.00" y2="330.40" stroke="#333" stroke-width="0.8"/>
<line x1="321.25" y1="327.00" x2="326.75" y2="327.00" stroke="#333" stroke-width="0.9"/>
<text x="324.00" y="323.60" font-size="7.5" text-anchor="middle" font-weight="bold" fill="#444" textLength="13.40" lengthAdjust="spacingAndGlyphs" stroke="#444" stroke-width="0.32">****</text>
<rect x="337.45" y="324.35" width="12.30" height="80.95" fill="url(#hlineF)" stroke="#666" stroke-width="0.9"/>
<line x1="343.60" y1="320.30" x2="343.60" y2="325.40" stroke="#333" stroke-width="0.8"/>
<line x1="340.85" y1="320.30" x2="346.35" y2="320.30" stroke="#333" stroke-width="0.9"/>
<text x="343.60" y="318.70" font-size="7.5" text-anchor="middle" font-weight="bold" fill="#444" textLength="13.40" lengthAdjust="spacingAndGlyphs" stroke="#444" stroke-width="0.32">****</text>
<rect x="356.55" y="314.85" width="12.30" height="90.45" fill="url(#dfwdF)" stroke="#111" stroke-width="0.9"/>
<line x1="362.70" y1="311.70" x2="362.70" y2="315.90" stroke="#333" stroke-width="0.8"/>
<line x1="359.95" y1="311.70" x2="365.45" y2="311.70" stroke="#333" stroke-width="0.9"/>
<text x="362.70" y="309.50" font-size="7.5" text-anchor="middle" font-weight="bold" fill="#444" textLength="13.40" lengthAdjust="spacingAndGlyphs" stroke="#444" stroke-width="0.32">****</text>
<text x="315.00" y="419.60" font-size="9.2" text-anchor="middle" font-weight="bold" fill="#1e1e1e" textLength="89.00" lengthAdjust="spacingAndGlyphs" stroke="#1e1e1e" stroke-width="0.32">Experimental Groups</text>
<text x="282.60" y="254.00" font-size="10.2" text-anchor="start" font-weight="bold" fill="#1e1e1e" textLength="63.90" lengthAdjust="spacingAndGlyphs" stroke="#1e1e1e" stroke-width="0.32">Von Frey Test</text>
<text x="245.50" y="236.00" font-size="12.9" text-anchor="start" font-weight="bold" fill="#1e1e1e" textLength="10.30" lengthAdjust="spacingAndGlyphs" stroke="#1e1e1e" stroke-width="0.32">F)</text>
<text transform="translate(230.20,342.50) rotate(-90)" x="0" y="0" font-size="9.0" text-anchor="middle" font-weight="bold" fill="#1e1e1e" stroke="#1e1e1e" stroke-width="0.3" textLength="160.50" lengthAdjust="spacingAndGlyphs">Mechanical Withdrawal Threshold&#160; (g)</text>
<line x1="444.90" y1="279.70" x2="444.90" y2="408.40" stroke="#1a1a1a" stroke-width="1.3"/>
<line x1="439.40" y1="407.90" x2="574.00" y2="407.90" stroke="#1a1a1a" stroke-width="1.3"/>
<line x1="440.10" y1="407.90" x2="444.90" y2="407.90" stroke="#1a1a1a" stroke-width="1.2"/>
<text x="438.60" y="411.57" font-size="10.2" text-anchor="end" font-weight="bold" fill="#1e1e1e" textLength="5.75" lengthAdjust="spacingAndGlyphs" stroke="#1e1e1e" stroke-width="0.32">0</text>
<line x1="440.10" y1="382.36" x2="444.90" y2="382.36" stroke="#1a1a1a" stroke-width="1.2"/>
<text x="438.60" y="386.03" font-size="10.2" text-anchor="end" font-weight="bold" fill="#1e1e1e" textLength="16.05" lengthAdjust="spacingAndGlyphs" stroke="#1e1e1e" stroke-width="0.32">100</text>
<line x1="440.10" y1="356.82" x2="444.90" y2="356.82" stroke="#1a1a1a" stroke-width="1.2"/>
<text x="438.60" y="360.49" font-size="10.2" text-anchor="end" font-weight="bold" fill="#1e1e1e" textLength="16.05" lengthAdjust="spacingAndGlyphs" stroke="#1e1e1e" stroke-width="0.32">200</text>
<line x1="440.10" y1="331.28" x2="444.90" y2="331.28" stroke="#1a1a1a" stroke-width="1.2"/>
<text x="438.60" y="334.95" font-size="10.2" text-anchor="end" font-weight="bold" fill="#1e1e1e" textLength="16.05" lengthAdjust="spacingAndGlyphs" stroke="#1e1e1e" stroke-width="0.32">300</text>
<line x1="440.10" y1="305.74" x2="444.90" y2="305.74" stroke="#1a1a1a" stroke-width="1.2"/>
<text x="438.60" y="309.41" font-size="10.2" text-anchor="end" font-weight="bold" fill="#1e1e1e" textLength="16.05" lengthAdjust="spacingAndGlyphs" stroke="#1e1e1e" stroke-width="0.32">400</text>
<line x1="440.10" y1="280.20" x2="444.90" y2="280.20" stroke="#1a1a1a" stroke-width="1.2"/>
<text x="438.60" y="283.87" font-size="10.2" text-anchor="end" font-weight="bold" fill="#1e1e1e" textLength="16.05" lengthAdjust="spacingAndGlyphs" stroke="#1e1e1e" stroke-width="0.32">500</text>
<rect x="452.45" y="308.75" width="13.10" height="99.15" fill="url(#chkG)" stroke="#111" stroke-width="0.9"/>
<line x1="459.00" y1="307.90" x2="459.00" y2="309.80" stroke="#333" stroke-width="0.8"/>
<line x1="456.25" y1="307.90" x2="461.75" y2="307.90" stroke="#333" stroke-width="0.9"/>
<rect x="472.85" y="352.95" width="13.10" height="54.95" fill="url(#dbackG)" stroke="#111" stroke-width="0.9"/>
<line x1="479.40" y1="352.10" x2="479.40" y2="354.00" stroke="#333" stroke-width="0.8"/>
<line x1="476.65" y1="352.10" x2="482.15" y2="352.10" stroke="#333" stroke-width="0.9"/>
<text x="479.40" y="347.30" font-size="6.8" text-anchor="middle" font-weight="bold" fill="#444" textLength="13.40" lengthAdjust="spacingAndGlyphs" font-family="Liberation Mono, monospace" stroke="#444" stroke-width="0.25">####</text>
<rect x="492.35" y="319.05" width="13.10" height="88.85" fill="#fff" stroke="#707070" stroke-width="1.1"/>
<line x1="496.41" y1="319.05" x2="496.41" y2="407.90" stroke="#7a7a7a" stroke-width="1.2"/>
<line x1="500.21" y1="319.05" x2="500.21" y2="407.90" stroke="#7a7a7a" stroke-width="1.2"/>
<line x1="498.90" y1="317.00" x2="498.90" y2="320.10" stroke="#333" stroke-width="0.8"/>
<line x1="496.15" y1="317.00" x2="501.65" y2="317.00" stroke="#333" stroke-width="0.9"/>
<text x="498.90" y="310.80" font-size="7.5" text-anchor="middle" font-weight="bold" fill="#444" textLength="13.40" lengthAdjust="spacingAndGlyphs" stroke="#444" stroke-width="0.32">****</text>
<rect x="512.85" y="319.45" width="13.10" height="88.45" fill="#cfcfcf" stroke="#6e6e6e" stroke-width="1.0"/>
<line x1="519.40" y1="317.30" x2="519.40" y2="320.50" stroke="#333" stroke-width="0.8"/>
<line x1="516.65" y1="317.30" x2="522.15" y2="317.30" stroke="#333" stroke-width="0.9"/>
<text x="519.40" y="310.80" font-size="7.5" text-anchor="middle" font-weight="bold" fill="#444" textLength="13.40" lengthAdjust="spacingAndGlyphs" stroke="#444" stroke-width="0.32">****</text>
<rect x="532.95" y="316.35" width="13.10" height="91.55" fill="url(#hlineG)" stroke="#666" stroke-width="0.9"/>
<line x1="539.50" y1="315.50" x2="539.50" y2="317.40" stroke="#333" stroke-width="0.8"/>
<line x1="536.75" y1="315.50" x2="542.25" y2="315.50" stroke="#333" stroke-width="0.9"/>
<text x="539.50" y="310.80" font-size="7.5" text-anchor="middle" font-weight="bold" fill="#444" textLength="13.40" lengthAdjust="spacingAndGlyphs" stroke="#444" stroke-width="0.32">****</text>
<rect x="553.45" y="310.25" width="13.10" height="97.65" fill="url(#dfwdG)" stroke="#111" stroke-width="0.9"/>
<line x1="560.00" y1="309.40" x2="560.00" y2="311.30" stroke="#333" stroke-width="0.8"/>
<line x1="557.25" y1="309.40" x2="562.75" y2="309.40" stroke="#333" stroke-width="0.9"/>
<text x="560.00" y="304.30" font-size="7.5" text-anchor="middle" font-weight="bold" fill="#444" textLength="13.40" lengthAdjust="spacingAndGlyphs" stroke="#444" stroke-width="0.32">****</text>
<text x="560.00" y="294.00" font-size="6.0" text-anchor="middle" font-weight="bold" fill="#444" textLength="10.80" lengthAdjust="spacingAndGlyphs" stroke="#444" stroke-width="0.32">&amp;&amp;&amp;</text>
<text x="509.05" y="421.70" font-size="9.8" text-anchor="middle" font-weight="bold" fill="#1e1e1e" textLength="91.90" lengthAdjust="spacingAndGlyphs" stroke="#1e1e1e" stroke-width="0.32">Experimental Groups</text>
<text x="461.40" y="250.50" font-size="10.5" text-anchor="start" font-weight="bold" fill="#1e1e1e" textLength="95.70" lengthAdjust="spacingAndGlyphs" stroke="#1e1e1e" stroke-width="0.32">Randall Selitto Test</text>
<text x="430.90" y="235.50" font-size="12.9" text-anchor="start" font-weight="bold" fill="#1e1e1e" textLength="13.30" lengthAdjust="spacingAndGlyphs" stroke="#1e1e1e" stroke-width="0.32">G)</text>
<text transform="translate(415.70,342.80) rotate(-90)" x="0" y="0" font-size="9.0" text-anchor="middle" font-weight="bold" fill="#1e1e1e" stroke="#1e1e1e" stroke-width="0.3" textLength="167.20" lengthAdjust="spacingAndGlyphs">Mechanical Withdrawal Threshold&#160; (g)</text>
<rect x="632.0" y="268.30" width="12.8" height="6.2" fill="#111" stroke="#222" stroke-width="0.8"/>
<rect x="632.40" y="268.70" width="2.40" height="2.70" fill="#f4f4f4"/>
<rect x="637.20" y="268.70" width="2.40" height="2.70" fill="#f4f4f4"/>
<rect x="642.00" y="268.70" width="2.40" height="2.70" fill="#f4f4f4"/>
<rect x="634.80" y="271.40" width="2.40" height="2.70" fill="#f4f4f4"/>
<rect x="639.60" y="271.40" width="2.40" height="2.70" fill="#f4f4f4"/>
<text x="649.70" y="274.60" font-size="9.3" text-anchor="start" font-weight="bold" fill="#1e1e1e" textLength="60.00" lengthAdjust="spacingAndGlyphs" stroke="#1e1e1e" stroke-width="0.2">Vehicle control</text>
<clipPath id="cl297"><rect x="632.0" y="292.00" width="12.8" height="6.2"/></clipPath>
<g clip-path="url(#cl297)"><rect x="632.0" y="292.00" width="12.8" height="6.2" fill="#fff"/>
<line x1="622.80" y1="292.00" x2="629.00" y2="298.20" stroke="#111" stroke-width="2.0"/>
<line x1="627.40" y1="292.00" x2="633.60" y2="298.20" stroke="#111" stroke-width="2.0"/>
<line x1="632.00" y1="292.00" x2="638.20" y2="298.20" stroke="#111" stroke-width="2.0"/>
<line x1="636.60" y1="292.00" x2="642.80" y2="298.20" stroke="#111" stroke-width="2.0"/>
<line x1="641.20" y1="292.00" x2="647.40" y2="298.20" stroke="#111" stroke-width="2.0"/>
<line x1="645.80" y1="292.00" x2="652.00" y2="298.20" stroke="#111" stroke-width="2.0"/>
<line x1="650.40" y1="292.00" x2="656.60" y2="298.20" stroke="#111" stroke-width="2.0"/>
</g>
<rect x="632.0" y="292.00" width="12.8" height="6.2" fill="none" stroke="#222" stroke-width="0.8"/>
<text x="649.70" y="298.30" font-size="9.3" text-anchor="start" font-weight="bold" fill="#1e1e1e" textLength="61.50" lengthAdjust="spacingAndGlyphs" stroke="#1e1e1e" stroke-width="0.2">Disease control</text>
<rect x="632.0" y="316.10" width="12.8" height="6.2" fill="#fff" stroke="#555" stroke-width="0.9"/>
<line x1="635.84" y1="316.10" x2="635.84" y2="322.30" stroke="#555" stroke-width="0.9"/>
<line x1="639.94" y1="316.10" x2="639.94" y2="322.30" stroke="#555" stroke-width="0.9"/>
<text x="649.70" y="322.40" font-size="9.3" text-anchor="start" font-weight="bold" fill="#1e1e1e" textLength="84.00" lengthAdjust="spacingAndGlyphs" stroke="#1e1e1e" stroke-width="0.2">Duloxetine 30 mg/kg</text>
<rect x="632.0" y="339.40" width="12.8" height="6.2" fill="#c4c4c4" stroke="#666" stroke-width="0.9"/>
<text x="649.70" y="345.70" font-size="9.3" text-anchor="start" font-weight="bold" fill="#1e1e1e" textLength="74.70" lengthAdjust="spacingAndGlyphs" stroke="#1e1e1e" stroke-width="0.2">LN20192 25 mg/kg</text>
<rect x="632.0" y="364.20" width="12.8" height="6.2" fill="#fff" stroke="#666" stroke-width="0.9"/>
<line x1="632.0" y1="367.30" x2="644.8" y2="367.30" stroke="#777" stroke-width="0.9"/>
<text x="649.70" y="370.50" font-size="9.3" text-anchor="start" font-weight="bold" fill="#1e1e1e" textLength="74.70" lengthAdjust="spacingAndGlyphs" stroke="#1e1e1e" stroke-width="0.2">LN20192 50 mg/kg</text>
<clipPath id="cl393"><rect x="632.0" y="387.40" width="12.8" height="6.2"/></clipPath>
<g clip-path="url(#cl393)"><rect x="632.0" y="387.40" width="12.8" height="6.2" fill="#fff"/>
<line x1="626.40" y1="393.60" x2="632.60" y2="387.40" stroke="#111" stroke-width="2.6"/>
<line x1="633.00" y1="393.60" x2="639.20" y2="387.40" stroke="#111" stroke-width="2.6"/>
<line x1="639.60" y1="393.60" x2="645.80" y2="387.40" stroke="#111" stroke-width="2.6"/>
<line x1="646.20" y1="393.60" x2="652.40" y2="387.40" stroke="#111" stroke-width="2.6"/>
</g>
<rect x="632.0" y="387.40" width="12.8" height="6.2" fill="none" stroke="#222" stroke-width="0.8"/>
<text x="649.70" y="393.70" font-size="9.3" text-anchor="start" font-weight="bold" fill="#1e1e1e" textLength="74.70" lengthAdjust="spacingAndGlyphs" stroke="#1e1e1e" stroke-width="0.2">LN20192 75 mg/kg</text>
</svg>
</body></html>
